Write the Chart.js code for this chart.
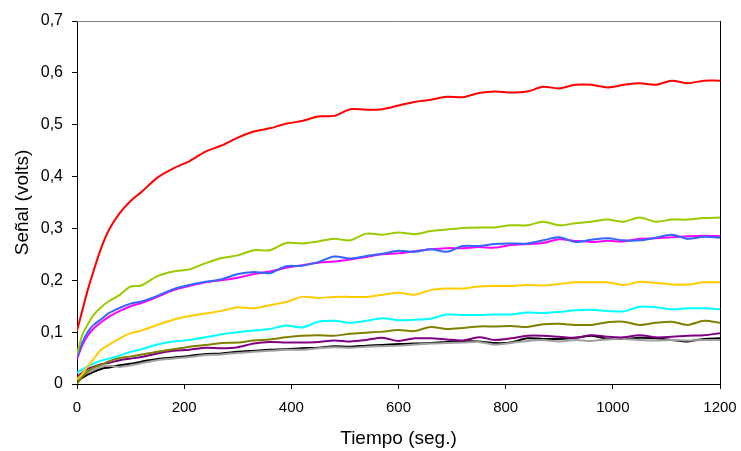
<!DOCTYPE html>
<html>
<head>
<meta charset="utf-8">
<title>Señal vs Tiempo</title>
<script src="https://cdn.jsdelivr.net/npm/chart.js@4.4.1/dist/chart.umd.min.js"></script>
<style>
    body { margin: 0; background: #fff; }
    #wrap { width: 741px; height: 451px; }
</style>
</head>
<body>
<div id="wrap"><canvas id="signalChart" width="741" height="451"></canvas></div>
<script>
// Sample times (seg.)
const tiempos = [0, 10, 20, 30, 45, 60, 80, 100, 120,
    150, 180, 210, 240, 270, 300, 330, 360, 390, 420, 450, 480, 510, 540, 570, 600,
    630, 660, 690, 720, 750, 780, 810, 840, 870, 900, 930, 960, 990, 1020, 1050,
    1080, 1110, 1140, 1170, 1200];

// Series values (volts)
const rojo = [0.103, 0.142, 0.181, 0.215, 0.262, 0.298, 0.330, 0.353, 0.370,
    0.398, 0.416, 0.430, 0.448, 0.460, 0.475, 0.487, 0.493, 0.502, 0.507, 0.516, 0.517, 0.530, 0.529, 0.530, 0.537,
    0.544, 0.548, 0.554, 0.553, 0.561, 0.564, 0.562, 0.564, 0.573, 0.570, 0.577, 0.577, 0.572, 0.577, 0.580,
    0.577, 0.585, 0.580, 0.585, 0.585];
const verde = [0.058, 0.095, 0.115, 0.132, 0.148, 0.160, 0.172, 0.188, 0.190,
    0.208, 0.217, 0.221, 0.233, 0.243, 0.248, 0.258, 0.258, 0.272, 0.271, 0.275, 0.280, 0.277, 0.290, 0.288, 0.292,
    0.289, 0.295, 0.298, 0.301, 0.302, 0.302, 0.306, 0.306, 0.313, 0.306, 0.310, 0.313, 0.317, 0.313, 0.321,
    0.313, 0.317, 0.317, 0.320, 0.321];
const azul = [0.052, 0.080, 0.100, 0.113, 0.125, 0.137, 0.147, 0.155, 0.159,
    0.170, 0.183, 0.191, 0.197, 0.202, 0.212, 0.216, 0.214, 0.227, 0.228, 0.235, 0.246, 0.242, 0.247, 0.251, 0.257,
    0.255, 0.260, 0.255, 0.266, 0.266, 0.270, 0.271, 0.271, 0.277, 0.283, 0.274, 0.278, 0.281, 0.277, 0.277,
    0.282, 0.288, 0.280, 0.284, 0.282];
const magenta = [0.048, 0.075, 0.093, 0.106, 0.119, 0.130, 0.141, 0.150, 0.156,
    0.168, 0.181, 0.189, 0.196, 0.200, 0.205, 0.212, 0.217, 0.224, 0.229, 0.234, 0.236, 0.240, 0.245, 0.250, 0.252,
    0.256, 0.260, 0.262, 0.262, 0.264, 0.263, 0.268, 0.270, 0.272, 0.279, 0.276, 0.274, 0.276, 0.275, 0.280,
    0.281, 0.283, 0.285, 0.286, 0.285];
const amarillo = [0.008, 0.020, 0.034, 0.047, 0.066, 0.076, 0.088, 0.098, 0.103,
    0.114, 0.124, 0.131, 0.136, 0.141, 0.148, 0.146, 0.152, 0.158, 0.168, 0.166, 0.168, 0.168, 0.168, 0.172, 0.176,
    0.172, 0.181, 0.184, 0.184, 0.188, 0.189, 0.189, 0.191, 0.190, 0.193, 0.196, 0.196, 0.196, 0.191, 0.197,
    0.195, 0.192, 0.192, 0.196, 0.196];
const cian = [0.022, 0.028, 0.034, 0.039, 0.045, 0.049, 0.055, 0.062, 0.067,
    0.076, 0.082, 0.085, 0.090, 0.096, 0.100, 0.103, 0.106, 0.113, 0.109, 0.120, 0.122, 0.118, 0.122, 0.127, 0.123,
    0.124, 0.126, 0.134, 0.133, 0.133, 0.134, 0.134, 0.138, 0.137, 0.139, 0.142, 0.143, 0.141, 0.140, 0.149,
    0.148, 0.144, 0.146, 0.146, 0.144];
const oliva = [0.000, 0.014, 0.024, 0.031, 0.037, 0.044, 0.050, 0.053, 0.057,
    0.062, 0.067, 0.072, 0.075, 0.079, 0.080, 0.084, 0.086, 0.090, 0.093, 0.094, 0.093, 0.097, 0.099, 0.101, 0.104,
    0.102, 0.110, 0.106, 0.108, 0.111, 0.111, 0.112, 0.110, 0.115, 0.116, 0.114, 0.114, 0.119, 0.120, 0.114,
    0.118, 0.120, 0.114, 0.122, 0.118];
const morado = [0.014, 0.022, 0.029, 0.033, 0.038, 0.041, 0.046, 0.049, 0.052,
    0.059, 0.064, 0.066, 0.070, 0.069, 0.071, 0.078, 0.081, 0.080, 0.080, 0.081, 0.084, 0.082, 0.085, 0.089, 0.083,
    0.088, 0.088, 0.086, 0.084, 0.090, 0.085, 0.088, 0.093, 0.093, 0.091, 0.089, 0.094, 0.091, 0.090, 0.094,
    0.090, 0.091, 0.093, 0.094, 0.098];
const negro = [0.007, 0.012, 0.018, 0.023, 0.029, 0.032, 0.036, 0.039, 0.043,
    0.048, 0.051, 0.054, 0.058, 0.059, 0.062, 0.064, 0.066, 0.067, 0.069, 0.070, 0.073, 0.072, 0.074, 0.075, 0.077,
    0.078, 0.079, 0.081, 0.083, 0.082, 0.079, 0.080, 0.088, 0.087, 0.087, 0.089, 0.093, 0.087, 0.087, 0.089,
    0.088, 0.085, 0.082, 0.087, 0.088];
const gris = [0.012, 0.016, 0.022, 0.027, 0.033, 0.035, 0.033, 0.036, 0.040,
    0.046, 0.049, 0.052, 0.056, 0.057, 0.060, 0.062, 0.064, 0.066, 0.066, 0.069, 0.071, 0.070, 0.072, 0.073, 0.074,
    0.076, 0.078, 0.079, 0.080, 0.081, 0.076, 0.079, 0.083, 0.085, 0.082, 0.085, 0.083, 0.086, 0.087, 0.085,
    0.084, 0.085, 0.084, 0.085, 0.085];

// Axis tick values
const xTicks = [0, 200, 400, 600, 800, 1000, 1200];
const yTicks = [0, 0.1, 0.2, 0.3, 0.4, 0.5, 0.6, 0.7];

document.addEventListener('DOMContentLoaded', function() {
    initializeChart();
});

function toPoints(values) {
    return values.map((v, i) => ({ x: tiempos[i], y: v }));
}

function formatComma(value) {
    if (value === 0) return '0';
    return value.toFixed(1).replace('.', ',');
}

// draws the top (gray) and right (black) edges of the plot box
const plotFrame = {
    id: 'plotFrame',
    afterDraw(chart) {
        const { ctx, chartArea } = chart;
        ctx.save();
        ctx.lineWidth = 1;
        ctx.strokeStyle = '#808080';
        ctx.beginPath();
        ctx.moveTo(chartArea.left, chartArea.top + 0.5);
        ctx.lineTo(chartArea.right, chartArea.top + 0.5);
        ctx.stroke();
        ctx.strokeStyle = '#000000';
        ctx.beginPath();
        ctx.moveTo(chartArea.right + 0.5, chartArea.top);
        ctx.lineTo(chartArea.right + 0.5, chartArea.bottom);
        ctx.stroke();
        ctx.restore();
    }
};

function initializeChart() {
    const series = [
        { label: 'Rojo', data: rojo, color: '#FF0000' },
        { label: 'Verde', data: verde, color: '#99CC00' },
        { label: 'Azul', data: azul, color: '#3366FF' },
        { label: 'Magenta', data: magenta, color: '#FF00FF' },
        { label: 'Amarillo', data: amarillo, color: '#FFCC00' },
        { label: 'Cian', data: cian, color: '#00FFFF' },
        { label: 'Oliva', data: oliva, color: '#808000' },
        { label: 'Morado', data: morado, color: '#800080' },
        { label: 'Gris', data: gris, color: '#A0A0A0' },
        { label: 'Negro', data: negro, color: '#000000' }
    ];

    const ctx = document.getElementById('signalChart').getContext('2d');
    new Chart(ctx, {
        type: 'line',
        data: {
            datasets: series.map(s => ({
                label: s.label,
                data: toPoints(s.data),
                borderColor: s.color,
                backgroundColor: s.color,
                borderWidth: 2,
                pointRadius: 0,
                tension: 0.3,
                fill: false
            }))
        },
        options: {
            responsive: false,
            animation: false,
            devicePixelRatio: 1,
            layout: {
                padding: { top: 21, right: 21, left: 0, bottom: 0 }
            },
            plugins: {
                legend: { display: false },
                tooltip: { enabled: false }
            },
            scales: {
                x: {
                    type: 'linear',
                    min: 0,
                    max: 1200,
                    afterFit(scale) {
                        scale.height = 67;
                        scale.paddingLeft = 0;
                        scale.paddingRight = 0;
                    },
                    afterBuildTicks(scale) { scale.ticks = xTicks.map(v => ({ value: v })); },
                    grid: { drawOnChartArea: false, drawTicks: true, tickLength: 5, color: '#000000' },
                    border: { display: true, color: '#000000', width: 1 },
                    ticks: {
                        color: '#000000',
                        padding: 10,
                        maxRotation: 0,
                        font: { family: 'Liberation Sans', size: 15 },
                        callback: value => String(value)
                    },
                    title: {
                        display: true,
                        text: 'Tiempo (seg.)',
                        color: '#000000',
                        padding: { top: 0, bottom: 1 },
                        font: { family: 'Liberation Sans', size: 19 }
                    }
                },
                y: {
                    type: 'linear',
                    min: 0,
                    max: 0.7,
                    afterFit(scale) {
                        scale.width = 77;
                        scale.paddingTop = 0;
                        scale.paddingBottom = 0;
                    },
                    afterBuildTicks(scale) { scale.ticks = yTicks.map(v => ({ value: v })); },
                    grid: { drawOnChartArea: false, drawTicks: true, tickLength: 5, color: '#000000' },
                    border: { display: true, color: '#000000', width: 1 },
                    ticks: {
                        color: '#000000',
                        padding: 9,
                        font: { family: 'Liberation Sans', size: 16 },
                        callback: formatComma
                    },
                    title: {
                        display: true,
                        text: 'Señal (volts)',
                        color: '#000000',
                        padding: { top: 11, bottom: 0 },
                        font: { family: 'Liberation Sans', size: 19 }
                    }
                }
            }
        },
        plugins: [plotFrame]
    });
}
</script>
</body>
</html>
